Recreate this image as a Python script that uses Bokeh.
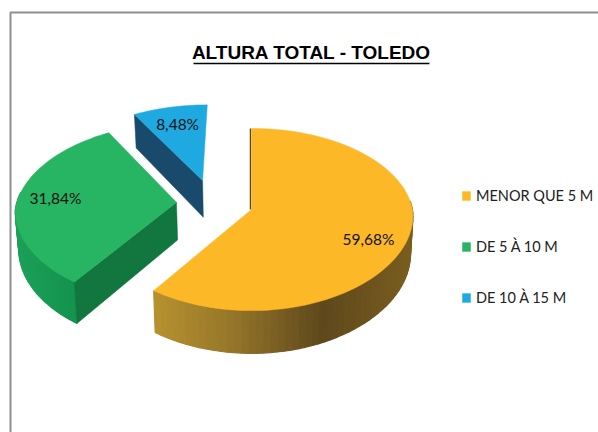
import numpy as np
from bokeh.plotting import figure
from bokeh.models import Range1d, Legend, LegendItem
from bokeh.core.properties import value
from bokeh.embed import file_html
from bokeh.resources import INLINE

title = "ALTURA TOTAL - TOLEDO"
categories = ["MENOR QUE 5 M", "DE 5 À 10 M", "DE 10 À 15 M"]
percent = [59.68, 31.84, 8.48]
labels = ["59,68%", "31,84%", "8,48%"]
colors = ["#FDB827", "#27B463", "#1FA9E1"]
face_colors = ["#5F4A1E", "#12773F", "#1A4A6B"]
explode_u = [0.0, -0.47, -0.315]
explode_v = [0.0, 0.08, 0.333]
label_dx = [0, -2, 0]
label_dy = [9, -2, 0]

AX, AY, RX, RY, K, DEPTH, LOWER = 251, 209, 161, 90, 0.11, 38, 0.985


def project(u, v, lower=False):
    u, v = np.asarray(u, float), np.asarray(v, float)
    w = 1 + K * v
    x = RX * u / w * (1 + 0.04 * np.minimum(v, 0))
    y = RY * v / w
    if lower:
        return AX + x * LOWER, AY - y + DEPTH / w
    return AX + x, AY - y


def lerp_color(stops, x):
    xs = [s[0] for s in stops]
    ch = [np.interp(x, xs, [s[1][i] for s in stops]) for i in range(3)]
    return "#%02x%02x%02x" % tuple(int(round(c)) for c in ch)


side_stops = [
    [(150, (184, 146, 47)), (230, (150, 118, 42)), (322, (94, 72, 28)), (412, (122, 94, 32))],
    [(15, (28, 160, 88)), (75, (20, 146, 78))],
    [(130, (26, 74, 107)), (210, (26, 74, 107))],
]

p = figure(width=598, height=432, x_range=Range1d(0, 598), y_range=Range1d(432, 0),
           toolbar_location=None, output_backend="svg", min_border=0,
           x_axis_type="linear", background_fill_color="white", border_fill_color="white",
           outline_line_color=None)
p.axis.visible = False
p.grid.visible = False

# chart frame
p.line([10, 10, 598], [432, 12, 12], line_color="#8F8F8F", line_width=2)

edges = np.cumsum([0] + percent) / sum(percent) * 2 * np.pi
tops = []
for i in range(3):
    t0, t1 = edges[i], edges[i + 1]
    eu, ev = explode_u[i], explode_v[i]
    th = np.linspace(t0, t1, 90)
    au, av = np.sin(th) + eu, np.cos(th) + ev

    # outer wall, shaded in strips
    vis = np.cos(th) < 0.12
    if i < 2:
        idx = np.where(vis)[0]
        for a, b in zip(idx[:-1], idx[1:]):
            xt, yt = project(au[[a, b]], av[[a, b]])
            xb, yb = project(au[[b, a]], av[[b, a]], True)
            col = lerp_color(side_stops[i], float(np.mean(xt)))
            p.patch(list(xt) + list(xb), list(yt) + list(yb), fill_color=col, line_color=col, line_width=1.2)

    # cut face towards the viewer
    if i == 0:
        x0, y0 = project([eu + np.sin(t0), eu], [ev + np.cos(t0), ev])
        p.line(x0 - 1, y0, line_color=face_colors[0], line_width=1.5)
    else:
        uu = [eu + np.sin(t0), eu]
        vv = [ev + np.cos(t0), ev]
        xt, yt = project(uu, vv)
        xb, yb = project(uu[::-1], vv[::-1], True)
        p.patch(list(xt) + list(xb), list(yt) + list(yb), fill_color=face_colors[i], line_color=face_colors[i], line_width=0.5)

    # top surface
    xs, ys = project(np.r_[eu, au], np.r_[ev, av])
    tops.append(p.patch(xs, ys, fill_color=colors[i], line_color=colors[i], line_width=0.5))

    # value label
    mid = (t0 + t1) / 2
    lx, ly = project([eu + 0.75 * np.sin(mid)], [ev + 0.75 * np.cos(mid)])
    p.text(lx + label_dx[i], ly + label_dy[i], text=[labels[i]], text_font=value("Lato"), text_font_size="15.5px",
           text_align="center", text_baseline="middle", text_color="#111111")

# title with underline
p.text([311], [52], text=[title], text_font=value("Liberation Sans"), text_font_style="bold",
       text_font_size="19px", text_align="center", text_baseline="middle", text_color="#000000")
p.line([193, 429], [63, 63], line_color="#000000", line_width=1.5)

legend = Legend(items=[LegendItem(label=c, renderers=[r]) for c, r in zip(categories, tops)],
                location=(461, 126), orientation="vertical", border_line_color=None,
                background_fill_alpha=0, glyph_width=10, glyph_height=11, label_height=16,
                label_standoff=5, spacing=34, padding=5, margin=0,
                label_text_font="Lato", label_text_font_size="14.5px", label_text_color="#222222",
                label_text_baseline="middle")
p.add_layout(legend, "center")

open("out.html", "w").write(file_html(p, INLINE))
